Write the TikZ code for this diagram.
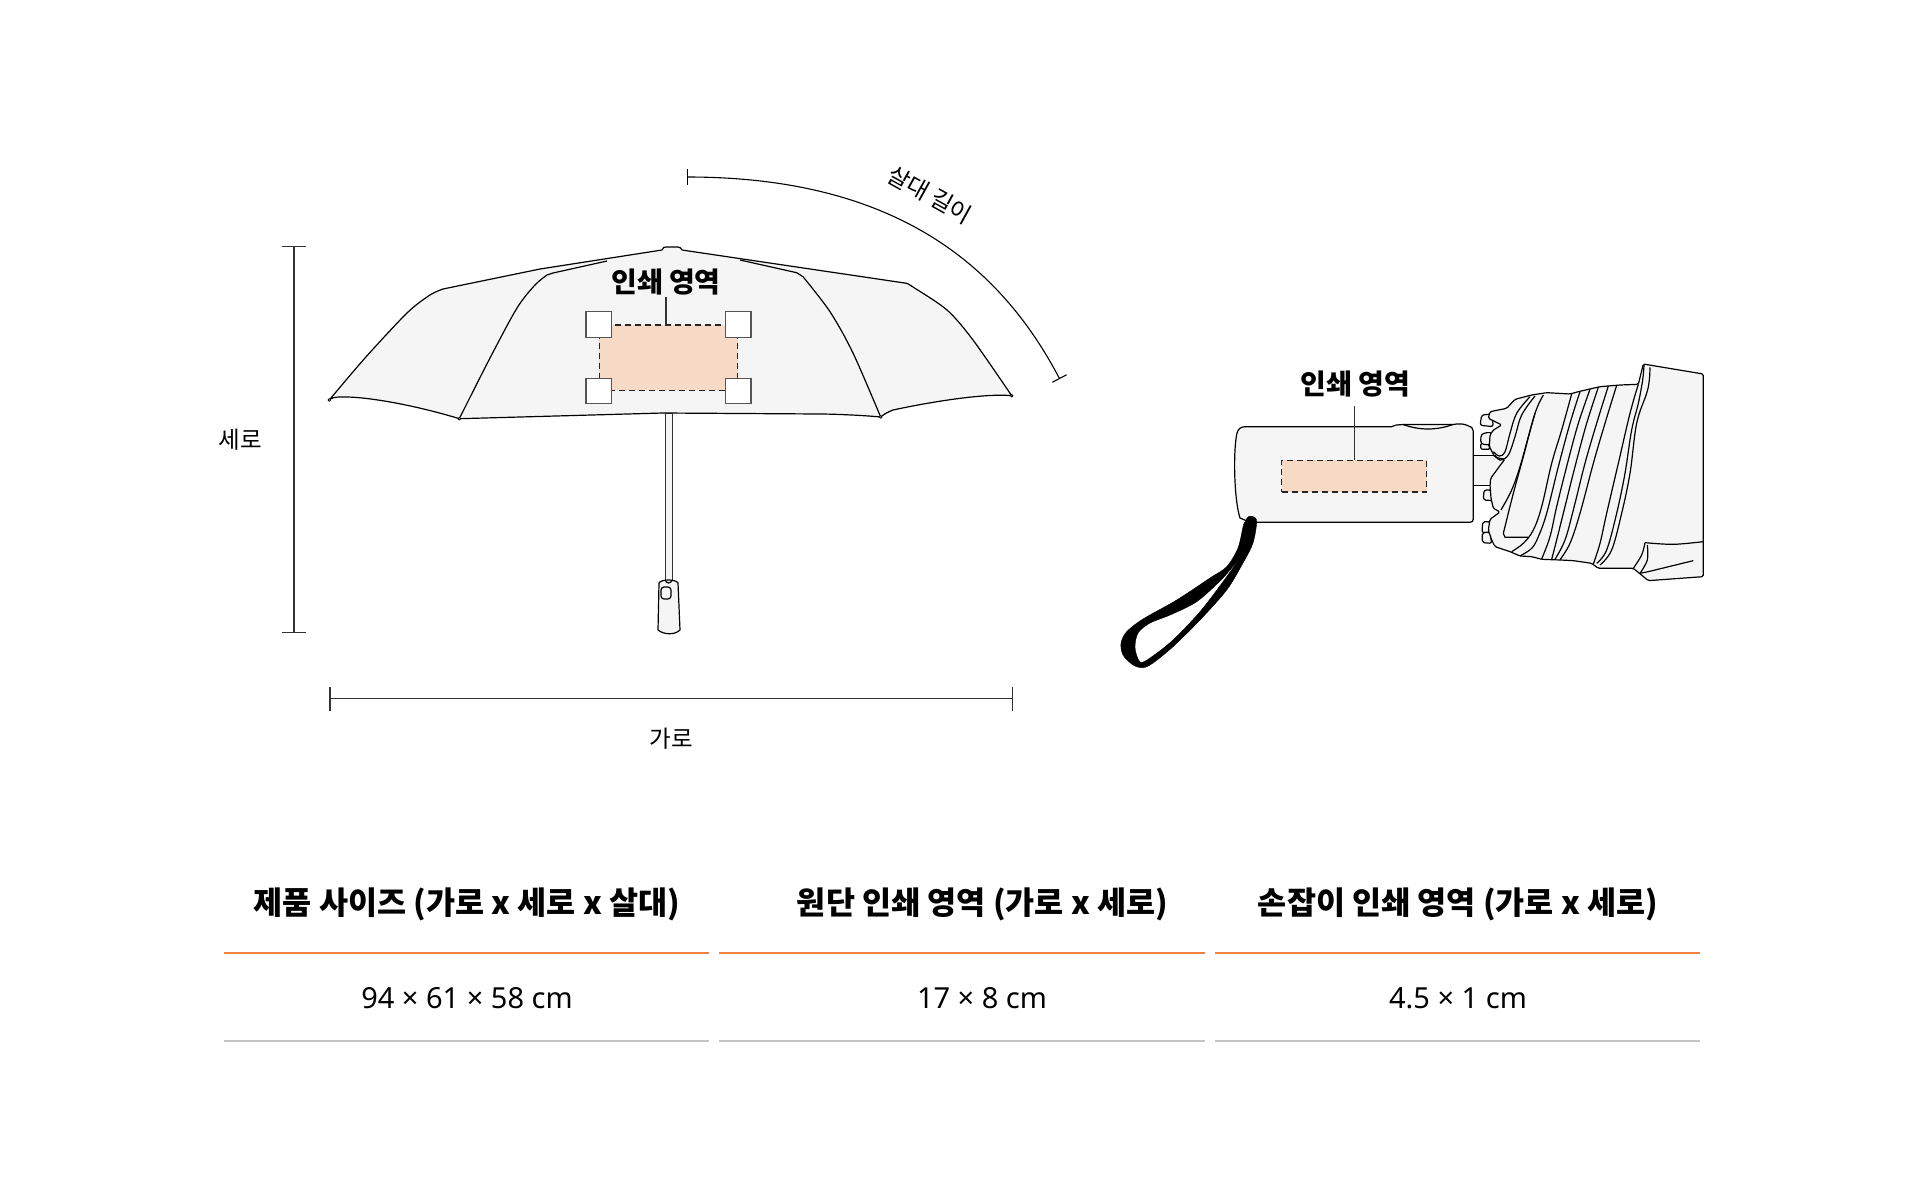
\documentclass[tikz,border=0pt]{standalone}
\usepackage{fontspec}
\setmainfont{Noto Sans CJK KR}
\newfontfamily\digitfont{Noto Sans}
\usetikzlibrary{arrows.meta}
\definecolor{canopygray}{HTML}{F5F5F5}
\definecolor{printpeach}{HTML}{F6DAC5}
\definecolor{headorange}{HTML}{F4813F}
\definecolor{rulegray}{HTML}{C4C4C4}
\definecolor{dimgray}{HTML}{333333}
\definecolor{boxgray}{HTML}{555555}
\tikzset{
    outline/.style={draw=black, line width=1.2pt, line join=round},
    panel/.style={outline, fill=canopygray},
    crease/.style={outline, smooth, tension=0.6},
    dimline/.style={draw=dimgray, line width=1.1pt, {Bar[width=24pt,line width=1.1pt]}-{Bar[width=24pt,line width=1.1pt]}},
    ribline/.style={draw=black, line width=1.1pt, {Bar[width=16pt,line width=1.1pt]}-{Bar[width=16pt,line width=1.1pt]}},
    leader/.style={draw=dimgray, line width=1.2pt},
    printarea/.style={fill=printpeach, draw=black!85, line width=1.2pt, dash pattern=on 6pt off 4pt, inner sep=0pt},
    handlebox/.style={draw=boxgray, fill=white, line width=1.4pt, minimum size=25.5pt, inner sep=0pt},
    smalltext/.style={font=\fontsize{23.5pt}{26pt}\selectfont, inner sep=0pt},
    printtext/.style={font=\bfseries\fontsize{28pt}{32pt}\selectfont, inner sep=0pt},
    headtext/.style={font=\bfseries\fontsize{31.6pt}{36pt}\selectfont, inner sep=0pt},
    valuetext/.style={font=\digitfont\fontsize{29pt}{32pt}\selectfont, inner sep=0pt},
    headrule/.style={draw=headorange, line width=2pt},
    baserule/.style={draw=rulegray, line width=2pt},
}
\begin{document}
\begin{tikzpicture}[x=1pt, y=-1pt]
    \useasboundingbox (0, 0) rectangle (1920, 1200);

    % open umbrella
    \draw[panel, line width=1pt, draw=dimgray] (665, 413) -- (672.5, 413) -- (672.5, 584) -- (665, 584) -- cycle;
    \draw[panel] (659, 583) -- (658, 630) .. controls (664, 635) and (675, 635) .. (680, 630)
        -- (678, 583) .. controls (676, 579) and (661, 579) .. (659, 583) -- cycle;
    \draw[outline] (665, 580) .. controls (667, 584) and (670, 584) .. (672.5, 580);
    \draw[outline, rounded corners=3pt] (661, 587) rectangle (671, 599);

    \draw[panel] plot[smooth, tension=0.5] coordinates {(329.3, 400) (365, 358) (407, 313) (430, 295) (443, 289)}
        -- (540, 269) -- (662, 250) .. controls (663, 247.5) and (664, 247) .. (666, 247) -- (678, 247)
        .. controls (680, 247) and (681, 248) .. (682, 250)
        -- (906.7, 283.3)
        plot[smooth, tension=0.5] coordinates {(906.7, 283.3) (913, 287) (947, 310) (973, 340) (1011.7, 395.7)}
        .. controls (985, 393) and (930, 402) .. (893, 410)
        .. controls (888, 412) and (884, 414) .. (880.7, 417)
        .. controls (860, 415) and (830, 414) .. (820, 414)
        -- (663, 413) -- (459.3, 418.7)
        .. controls (425, 408) and (370, 396) .. (340, 397)
        .. controls (335, 397) and (331, 398) .. (329.3, 400);
    \draw[outline] plot[smooth, tension=0.5] coordinates {(459.3, 418.7) (490, 358) (517, 308) (535, 285) (547, 275)}
        -- (553, 273) -- (607, 261);
    \draw[outline] (740, 260) -- (796.7, 272.7) -- (803, 276.7)
        plot[smooth, tension=0.5] coordinates {(803, 276.7) (830, 311.7) (853, 353) (880.7, 417)};
    \foreach \tip in {(329.3, 400), (459.3, 418.7), (880.7, 417), (1011.7, 395.7)}
        \draw[outline, line width=0.8pt, fill=white] \tip circle (1.3pt);

    \node[printarea, minimum width=138.4pt, minimum height=65.3pt] (canopyarea) at (668.5, 357.7) {};
    \node[handlebox] (canopynw) at (canopyarea.north west) {};
    \node[handlebox] (canopyne) at (canopyarea.north east) {};
    \node[handlebox] (canopysw) at (canopyarea.south west) {};
    \node[handlebox] (canopyse) at (canopyarea.south east) {};
    \node[printtext] (canopylabel) at (666, 282.5) {인쇄 영역};
    \coordinate (canopytick) at (666, 297);
    \coordinate (canopyfoot) at (666, 325);
    \draw[leader] (canopytick) -- (canopyfoot);

    % dimensions
    \coordinate (heighttop) at (294, 246);
    \coordinate (heightbottom) at (294, 633);
    \coordinate (widthleft) at (329.4, 698.5);
    \coordinate (widthright) at (1012.7, 698.5);
    \coordinate (ribstart) at (686.6, 177);
    \coordinate (ribend) at (1059.7, 379);
    \draw[dimline] (heighttop) -- (heightbottom);
    \draw[dimline] (widthleft) -- (widthright);
    \draw[ribline] (ribstart) .. controls (895, 177) and (1000, 265) .. (ribend);
    \node[smalltext] (heightlabel) at (240, 439.5) {세로};
    \node[smalltext] (widthlabel) at (671.5, 739) {가로};
    \node[smalltext, rotate=-29] (riblabel) at (930, 195) {살대 길이};

    % folded umbrella
    \draw[panel] (1473, 455.7) rectangle (1510, 485.3);
    \draw[panel] (1245, 426.7) -- (1391.7, 426.7) .. controls (1394, 425) and (1396, 425) .. (1403, 424.5)
        -- (1453, 424.5) .. controls (1458, 423.5) and (1464, 423.5) .. (1468, 425.7)
        .. controls (1471, 426.5) and (1473.3, 428) .. (1473.3, 431) -- (1473.3, 519)
        .. controls (1473.3, 521) and (1472, 522.3) .. (1470, 522.3) -- (1250, 522.3)
        -- (1240, 518) .. controls (1234, 500) and (1233, 450) .. (1237, 433)
        .. controls (1238, 429) and (1241, 426.7) .. (1245, 426.7) -- cycle;
    \draw[outline] (1403, 424.5) .. controls (1420, 430.5) and (1436, 430.5) .. (1453, 424.5);
    \node[printarea, minimum width=145pt, minimum height=31.7pt] (handlearea) at (1354.2, 476.2) {};
    \node[printtext] (handlelabel) at (1355.5, 384) {인쇄 영역};
    \coordinate (handletick) at (handlearea.north |- 0, 406);
    \draw[leader] (handletick) -- (handlearea.north);

    \draw[fill=black, even odd rule] plot[smooth cycle, tension=0.5] coordinates {(1245, 521.7) (1248.3, 516.7) (1253.3, 516.7) (1256.7, 521.7) (1253, 543) (1243, 563) (1226.7, 590) (1200, 620) (1173, 646.7) (1153, 663) (1143, 667.7) (1133, 665) (1123, 655) (1121, 643) (1126.7, 631.7) (1143, 619) (1176.7, 600) (1210, 578) (1226.7, 566.7) (1238, 548) (1243, 526.7)}
        plot[smooth cycle, tension=0.5] coordinates {(1240.5, 557) (1223, 578) (1196.7, 601.7) (1170, 615) (1150, 623) (1138, 633) (1135, 648) (1140, 662) (1150, 658) (1173, 640) (1200, 611.7) (1223, 581.7)};

    \begin{scope}[shift={(1460, 350)}, scale=0.3333]
        % knobs
        \draw[panel, rounded corners=2.5pt] (95, 192) -- (65, 195) -- (60, 226) -- (100, 230) -- cycle;
        \draw[panel, rounded corners=2pt] (85, 280) -- (62, 280) -- (62, 298) -- (90, 298) -- cycle;
        \draw[panel, rounded corners=3pt] (105, 255) -- (90, 246) -- (63, 252) -- (62, 282) -- (90, 285) -- cycle;
        \draw[panel, rounded corners=2.5pt] (95, 420) -- (72, 420) -- (70, 450) -- (102, 452) -- cycle;
        \draw[panel, rounded corners=2pt] (90, 515) -- (68, 515) -- (66, 548) -- (90, 548) -- cycle;
        \draw[panel, rounded corners=2pt] (90, 546) -- (67, 548) -- (67, 578) -- (95, 580) -- cycle;

        % body
        \draw[panel, rounded corners=1.5pt] (550, 42) -- (730, 72) -- (730, 680) -- (565, 692) -- (520, 655) -- (415, 655)
            -- (395, 640) -- (340, 632) -- (300, 630) -- (245, 628) -- (215, 620) -- (180, 618) -- (150, 605) -- (105, 590)
            -- (95, 570) -- (85, 540) -- (90, 508) -- (120, 486) -- (100, 475) -- (93, 445) -- (90, 405) -- (92, 385)
            -- (125, 340) -- (135, 328) -- (105, 322) -- (88, 290) -- (90, 255) -- (100, 240) -- (125, 225) -- (85, 205)
            -- (90, 185) -- (140, 175) -- (165, 148) -- (215, 135) -- (260, 128) -- (330, 132) -- (355, 125) -- (420, 110)
            -- (480, 105) -- (535, 103) -- cycle;

        % creases
        \draw[crease] plot[smooth] coordinates {(100, 305) (118, 318) (135, 305) (150, 250) (170, 190) (210, 140)};
        \draw[crease] plot[smooth] coordinates {(105, 315) (120, 330) (145, 315) (165, 260) (185, 195) (225, 138)};
        \draw[crease] plot[smooth] coordinates {(250, 135) (225, 190) (190, 320) (160, 430) (130, 550)} -- (135, 562) -- (205, 562);
        \draw[crease] plot[smooth] coordinates {(225, 190) (205, 260) (180, 350) (155, 420) (123, 480)};
        \draw[crease] plot[smooth] coordinates {(335, 132) (305, 240) (275, 340) (245, 470) (220, 540) (190, 580) (155, 605)};
        \draw[crease] plot[smooth] coordinates {(360, 125) (330, 220) (295, 350) (260, 490) (235, 560) (215, 595) (180, 618)};
        \draw[crease] plot[smooth] coordinates {(390, 118) (355, 220) (325, 330) (290, 470) (270, 560) (245, 627)};
        \draw[crease] plot[smooth] coordinates {(415, 112) (380, 220) (345, 350) (310, 490) (290, 570) (275, 628)};
        \draw[crease] plot[smooth] coordinates {(445, 108) (410, 220) (375, 340) (340, 480) (315, 570) (285, 628)};
        \draw[crease] plot[smooth] coordinates {(470, 106) (435, 220) (400, 340) (360, 490) (330, 580) (300, 629)};
        \draw[crease] plot[smooth] coordinates {(535, 103) (510, 190) (475, 340) (440, 490) (420, 580) (400, 642)};
        \draw[crease] plot[smooth] coordinates {(552, 45) (548, 90) (535, 160) (515, 240) (495, 370) (470, 490) (440, 600) (410, 640)};
        \draw[crease] plot[smooth] coordinates {(570, 52) (568, 90) (560, 130) (530, 220) (510, 370) (485, 490) (455, 600) (420, 645)};

        % flap
        \draw[crease] plot[smooth] coordinates {(730, 575) (640, 583) (555, 578)};
        \draw[crease] plot[smooth] coordinates {(555, 578) (545, 615) (520, 655)};
        \draw[crease] plot[smooth] coordinates {(562, 585) (562, 630) (540, 670)};
        \draw[outline] (540, 670) -- (565, 665) -- (700, 632);
    \end{scope}

    % size table
    \coordinate (rulea) at (224, 953);
    \coordinate (ruleb) at (709, 953);
    \coordinate (rulec) at (719, 953);
    \coordinate (ruled) at (1205, 953);
    \coordinate (rulee) at (1215, 953);
    \coordinate (rulef) at (1700, 953);
    \coordinate (basea) at (224, 1041);
    \coordinate (baseb) at (709, 1041);
    \coordinate (basec) at (719, 1041);
    \coordinate (based) at (1205, 1041);
    \coordinate (basee) at (1215, 1041);
    \coordinate (basef) at (1700, 1041);
    \draw[headrule] (rulea) -- (ruleb);
    \draw[headrule] (rulec) -- (ruled);
    \draw[headrule] (rulee) -- (rulef);
    \draw[baserule] (basea) -- (baseb);
    \draw[baserule] (basec) -- (based);
    \draw[baserule] (basee) -- (basef);

    \node[headtext] (sizehead) at (467, 904.5) {제품 사이즈 (가로 x 세로 x 살대)};
    \node[headtext] (canopyhead) at (982.5, 904.5) {원단 인쇄 영역 (가로 x 세로)};
    \node[headtext] (handlehead) at (1458, 904.5) {손잡이 인쇄 영역 (가로 x 세로)};
    \node[valuetext] (sizevalue) at (467, 998.5) {94 × 61 × 58 cm};
    \node[valuetext] (canopyvalue) at (982, 998.5) {17 × 8 cm};
    \node[valuetext] (handlevalue) at (1458, 998.5) {4.5 × 1 cm};
\end{tikzpicture}
\end{document}
